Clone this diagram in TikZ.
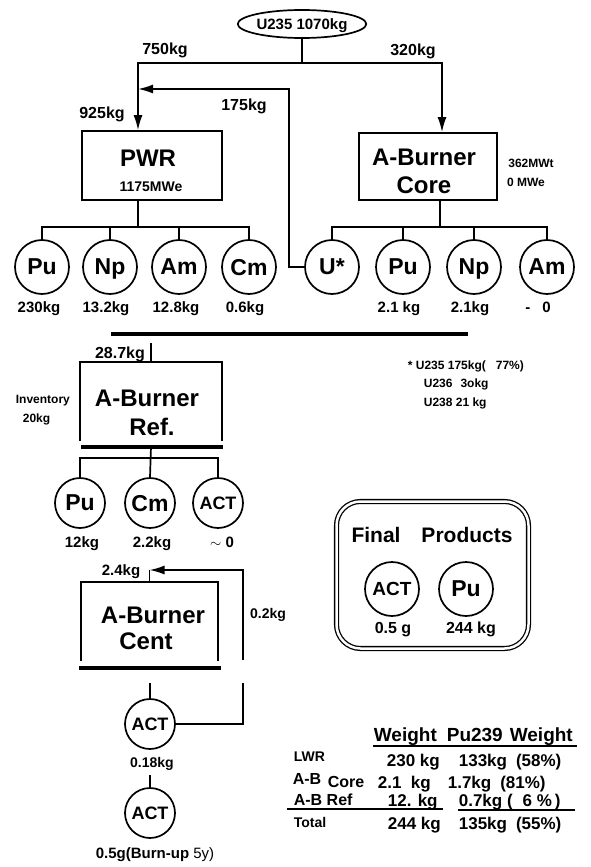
\documentclass[tikz,border=0pt]{standalone}
\usepackage{fontspec}
\setmainfont{Liberation Sans}
\usepackage{tikz}
\usetikzlibrary{arrows.meta, shapes.geometric}

\newcommand{\fsz}[1]{\fontsize{#1}{#1}\selectfont\bfseries}
\tikzset{
    every node/.append style={text depth=0pt},
    box/.style={draw, line width=1.7pt, inner sep=0pt},
    btxt/.style={inner sep=0pt, font=\fsz{24}},
    atom/.style={circle, draw, line width=1.7pt, minimum size=54pt, inner sep=0pt, font=\fsz{23}},
    wt/.style={inner sep=0pt, font=\fsz{15}},
    note/.style={inner sep=0pt, font=\fsz{12}},
    tab/.style={inner sep=0pt, anchor=west, font=\fsz{17}},
    bar/.style={line width=3.5pt}
}

\begin{document}
\begin{tikzpicture}[x=1pt, y=-1pt, >={Latex[length=15pt,width=9pt]}, line width=1.7pt]
    \useasboundingbox (0,0) rectangle (590,867);

    % Nguon U235
    \node[draw, ellipse, line width=1.7pt, minimum width=128pt, minimum height=28pt, inner sep=0pt, font=\fsz{15}] (src) at (302,24) {U235 1070kg};
    \coordinate (jt) at (302,63);
    \coordinate (ret) at (289,89);
    \node[wt, font=\fsz{16}] at (165,49) {750kg};
    \node[wt, font=\fsz{16}] at (413,50) {320kg};
    \node[wt, font=\fsz{16}] at (244,105) {175kg};
    \node[wt, font=\fsz{16}] at (102,113) {925kg};

    % Lo PWR va A-Burner Core
    \node[box, minimum width=140pt, minimum height=69pt] (pwr) at (152,165.5) {};
    \node[btxt] at (148,158) {PWR};
    \node[btxt, font=\fsz{14}] at (151,187) {1175MWe};
    \node[box, minimum width=138pt, minimum height=67pt] (core) at (428,166.5) {};
    \node[btxt] at (424,157) {A-Burner};
    \node[btxt] at (424,185) {Core};
    \node[note] at (531,163) {362MWt};
    \node[note] at (526,182) {0 MWe};
    \coordinate (pin) at ([xshift=-14pt]pwr.north);
    \coordinate (pout) at ([xshift=-14pt]pwr.south);
    \coordinate (cout) at ([xshift=12pt]core.south);

    \draw (src.south) -- (jt);
    \draw[->] (jt) -| (pin);
    \draw[->] (jt) -| ([xshift=14pt]core.north);

    % San pham PWR
    \coordinate (bar1) at (0,227);
    \node[atom] (pPu) at (42,267) {Pu};
    \node[atom] (pNp) at (110,267) {Np};
    \node[atom] (pAm) at (179,267) {Am};
    \node[atom] (pCm) at (249,267) {Cm};
    \node[wt] at (39,307) {230kg};
    \node[wt] at (106,307) {13.2kg};
    \node[wt] at (176,307) {12.8kg};
    \node[wt] at (245,307) {0.6kg};
    \draw (pPu.north) -- (pPu.north |- bar1) -- (pCm.north |- bar1) -- (pCm.north);
    \draw (pNp.north) -- (pNp.north |- bar1);
    \draw (pAm.north) -- (pAm.north |- bar1);
    \draw (pout) -- (pout |- bar1);

    % San pham A-Burner Core
    \node[atom] (u) at (332,267) {U*};
    \node[atom] (cPu) at (403,267) {Pu};
    \node[atom] (cNp) at (474,267) {Np};
    \node[atom] (cAm) at (547,267) {Am};
    \node[wt] at (399,307) {2.1 kg};
    \node[wt] at (470,307) {2.1kg};
    \node[wt] at (538,307) {-\hspace{12pt}0};
    \draw (u.north) -- (u.north |- bar1) -- (cAm.north |- bar1) -- (cAm.north);
    \draw (cPu.north) -- (cPu.north |- bar1);
    \draw (cNp.north) -- (cNp.north |- bar1);
    \draw (cout) -- (cout |- bar1);
    \draw[->] (u.west) -| (ret) -- (pin |- ret);

    \draw[bar] (111,334) -- (468,334);

    % Ghi chu U*
    \node[note, anchor=west] at (407,365) {* U235 175kg(\hspace{10pt}77\%)};
    \node[note, anchor=west] at (423,383) {U236\hspace{8pt}3okg};
    \node[note, anchor=west] at (423,402) {U238 21 kg};

    % A-Burner Ref
    \node[wt, font=\fsz{16}] at (120,353) {28.7kg};
    \node[minimum width=140pt, minimum height=77pt, inner sep=0pt] (ref) at (151,401.5) {};
    \node[btxt] at (147,398) {A-Burner};
    \node[btxt] at (152,427) {Ref.};
    \draw (ref.south west) -- (ref.north west) -- (ref.north east) -- (ref.south east);
    \draw[bar] ([xshift=1pt,yshift=-6pt]ref.south west) -- ([xshift=1pt,yshift=-6pt]ref.south east);
    \coordinate (rin) at (151,343);
    \draw (rin) -- (ref.north);
    \node[note, anchor=west] at (15,399) {Inventory};
    \node[note, anchor=west] at (22,418) {20kg};

    \coordinate (bar2) at (0,458);
    \node[atom, minimum size=50pt] (rPu) at (80,503) {Pu};
    \node[atom, minimum size=50pt] (rCm) at (150,503) {Cm};
    \node[atom, minimum size=50pt, font=\fsz{18}] (rACT) at (218,503) {ACT};
    \node[wt] at (82,542) {12kg};
    \node[wt] at (152,542) {2.2kg};
    \node[wt] at (222,542) {$\sim$ 0};
    \draw (rPu.north) -- (rPu.north |- bar2) -- (rACT.north |- bar2) -- (rACT.north);
    \draw ([yshift=-6pt]ref.south) -- (rCm.north);

    % A-Burner Cent
    \node[wt] at (121,570) {2.4kg};
    \node[minimum width=135pt, minimum height=77pt, inner sep=0pt] (cent) at (149.5,621.5) {};
    \node[btxt] at (153,615) {A-Burner};
    \node[btxt] at (146,641) {Cent};
    \draw (cent.south west) -- (cent.north west) -- (cent.north east) -- (cent.south east);
    \draw[bar] ([xshift=-2pt,yshift=-7pt]cent.south west) -- ([xshift=3pt,yshift=-7pt]cent.south east);
    \coordinate (cin) at (149.5,570);
    \draw (cin) -- (cent.north);
    \node[wt, font=\fsz{14}] at (268,613) {0.2kg};

    \node[atom, minimum size=50pt, font=\fsz{18}] (act1) at (150,724) {ACT};
    \node[atom, minimum size=50pt, font=\fsz{18}] (act2) at (150,813) {ACT};
    \node[wt, font=\fsz{14}] at (152,762) {0.18kg};
    \node[wt] at (155,853) {0.5g(Burn-up {\mdseries 5y)}};
    \coordinate (s1) at (150,683);
    \coordinate (s2) at (150,775);
    \coordinate (g1) at (243,683);
    \coordinate (g2) at (243,660);
    \draw (s1) -- (act1.north);
    \draw (s2) -- (act2.north);
    \draw (act1.east) -| (g1);
    \draw[->] (g2) |- (cin);

    % San pham cuoi
    \node[draw, double, double distance=2.5pt, line width=1.3pt, rounded corners=24pt, minimum width=192pt, minimum height=147pt] (fp) at (432.5,575) {};
    \node[wt, font=\fsz{21}] at (376,535) {Final};
    \node[wt, font=\fsz{21}] at (467,535) {Products};
    \node[atom, font=\fsz{19}] (fACT) at (392,589) {ACT};
    \node[atom] (fPu) at (466,589) {Pu};
    \node[wt, font=\fsz{16}] at (393,628) {0.5 g};
    \node[wt, font=\fsz{16}] at (471,628) {244 kg};

    % Bang
    \node[tab, font=\fsz{19}] at (373,735) {Weight\hspace{10pt}Pu239\hspace{7pt}Weight};
    \draw[line width=1.4pt] (373,746) -- (577,746);
    \node[tab, font=\fsz{14}] at (293,757) {LWR};
    \node[tab] at (386,760) {230 kg};
    \node[tab] at (458,760) {133kg\hspace{9pt}(58\%)};
    \node[tab, font=\fsz{16}] at (292,779) {A-B};
    \node[tab, font=\fsz{16}] at (327,782) {Core};
    \node[tab] at (377,782) {2.1\ \ kg};
    \node[tab] at (447,782) {1.7kg\hspace{9pt}(81\%)};
    \node[tab, font=\fsz{16}] at (293,800) {A-B Ref};
    \node[tab] at (387,800) {12. kg};
    \node[tab] at (458,800) {0.7kg (\hspace{10pt}6 \%\,)};
    \draw[line width=1.3pt] (287,809) -- (443,809);
    \draw[line width=1.3pt] (458,810) -- (575,810);
    \node[tab, font=\fsz{14}] at (293,822) {Total};
    \node[tab] at (387,823) {244 kg};
    \node[tab] at (458,823) {135kg\hspace{9pt}(55\%)};
\end{tikzpicture}
\end{document}
